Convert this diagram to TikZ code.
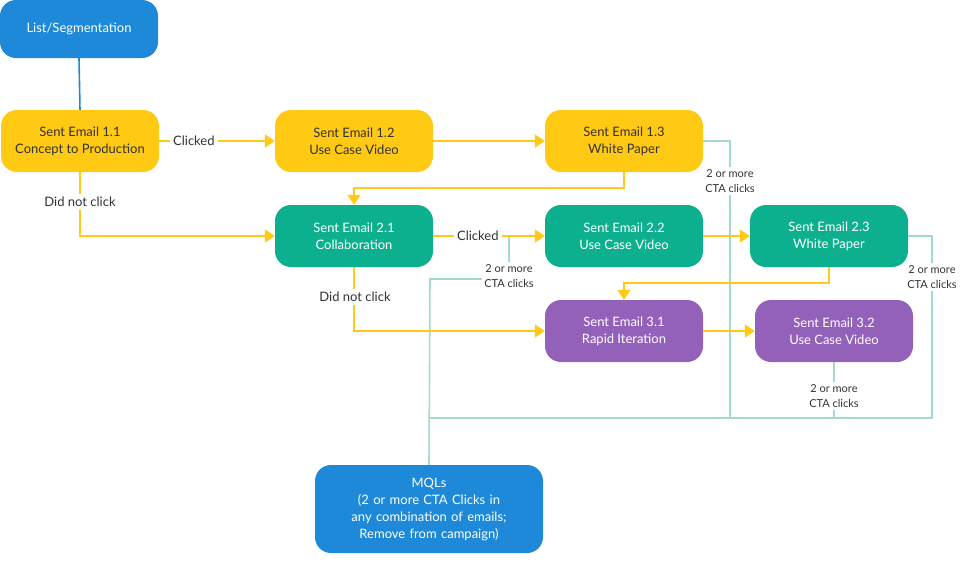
\documentclass[tikz,border=0pt]{standalone}
\usepackage{fontspec}
\setmainfont{Lato}
\usetikzlibrary{arrows.meta,positioning}
\definecolor{mailyellow}{HTML}{FFC914}
\definecolor{mailgreen}{HTML}{0DB08E}
\definecolor{mailpurple}{HTML}{9361BA}
\definecolor{mailblue}{HTML}{1D89D8}
\definecolor{ctaline}{HTML}{A3DCC5}
\definecolor{inktext}{HTML}{333333}
\tikzset{
  box/.style={rounded corners=16pt,minimum width=158pt,minimum height=62pt,align=center,
    font=\fontsize{13}{17}\selectfont},
  ybox/.style={box,fill=mailyellow,text=inktext},
  gbox/.style={box,fill=mailgreen,text=white},
  pbox/.style={box,fill=mailpurple,text=white},
  bbox/.style={box,fill=mailblue,text=white},
  flow/.style={mailyellow,line width=1.6pt,-{Triangle[length=10pt,width=13pt]}},
  plain/.style={mailyellow,line width=1.6pt},
  cta/.style={ctaline,line width=1.6pt},
  lbl/.style={fill=white,text=inktext,font=\fontsize{13}{16}\selectfont,inner sep=3pt},
  ctalbl/.style={fill=white,text=inktext,font=\fontsize{11}{15}\selectfont,align=center,inner sep=2pt}
}
\begin{document}
\begin{tikzpicture}[x=1pt,y=-1pt]
  \useasboundingbox (0,0) rectangle (960,560);
  % Nodes
  \node[bbox,minimum height=58pt] (list) at (79,29) {List/Segmentation};
  \node[ybox] (e11) at (80,141) {Sent Email 1.1\\Concept to Production};
  \node[ybox] (e12) at (354,141) {Sent Email 1.2\\Use Case Video};
  \node[ybox] (e13) at (624,141) {Sent Email 1.3\\White Paper};
  \node[gbox] (e21) at (354,236) {Sent Email 2.1\\Collaboration};
  \node[gbox] (e22) at (624,236) {Sent Email 2.2\\Use Case Video};
  \node[gbox] (e23) at (829,236) {Sent Email 2.3\\White Paper};
  \node[pbox] (e31) at (624,331) {Sent Email 3.1\\Rapid Iteration};
  \node[pbox] (e32) at (834,331) {Sent Email 3.2\\Use Case Video};
  \node[bbox,minimum width=228pt,minimum height=88pt,text width=215pt] (mql) at (429,509)
    {MQLs\\(2 or more CTA Clicks in any combination of emails; Remove from campaign)};

  % Bus corners
  \coordinate (busL) at (430,418);
  \coordinate (busR) at (932,418);
  \coordinate (tap) at (509,236);

  % CTA lines to MQLs
  \draw[cta] (e13.east) -| (730,418);
  \draw[cta] (e23.east) -| (busR) -- (busL);
  \draw[cta] (e32.south) -- (834,418);
  \draw[cta] (tap) -- (509,279) -- (430,279) -- (mql.north);
  \node[ctalbl] at (730,181) {2 or more\\CTA clicks};
  \node[ctalbl] at (932,277) {2 or more\\CTA clicks};
  \node[ctalbl] at (834,396) {2 or more\\CTA clicks};
  \node[ctalbl] at (509,276) {2 or more\\CTA clicks};

  % Flow
  \draw[mailblue,line width=1.6pt] (list.south) -- (e11.north);
  \draw[flow] (e11.east) -- node[lbl,pos=0.3] {Clicked} (e12.west);
  \draw[flow] (e12.east) -- (e13.west);
  \draw[flow] (e13.south) -- (624,188) -| (e21.north);
  \draw[flow] (e11.south) |- (e21.west);
  \node[lbl] at (80,202) {Did not click};
  \draw[flow] (e21.east) -- node[lbl,pos=0.4] {Clicked} (e22.west);
  \draw[flow] (e22.east) -- (e23.west);
  \draw[flow] (e23.south) -- (829,283) -| (e31.north);
  \draw[flow] (e21.south) |- (e31.west);
  \node[lbl] at (355,297) {Did not click};
  \draw[flow] (e31.east) -- (e32.west);
\end{tikzpicture}
\end{document}
